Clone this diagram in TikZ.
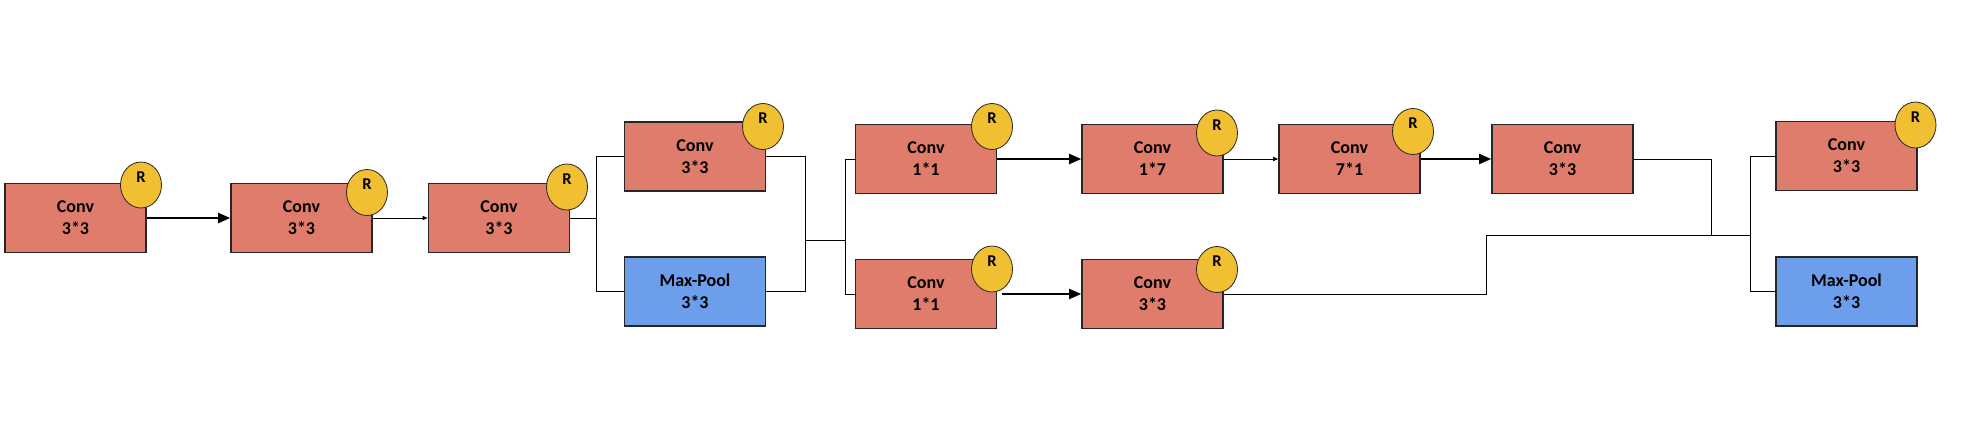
\documentclass[tikz,border=0pt]{standalone}
\usepackage{fontspec}
\setmainfont{Carlito}
\usetikzlibrary{arrows.meta,shapes.geometric}
\definecolor{convfill}{RGB}{224,124,107}
\definecolor{poolfill}{RGB}{109,158,235}
\definecolor{rfill}{RGB}{240,191,50}
\begin{document}
\begin{tikzpicture}[x=1pt,y=-1pt,
  blk/.style={draw=black!85,line width=1.6pt,minimum width=141pt,minimum height=69pt,inner sep=0pt,align=center,
    font=\fontsize{18}{22}\selectfont\bfseries},
  convbox/.style={blk,fill=convfill},
  poolbox/.style={blk,fill=poolfill},
  rcirc/.style={ellipse,draw=black!85,line width=0.8pt,fill=rfill,minimum width=41pt,minimum height=46pt,inner sep=0pt,
    text height=11pt,text depth=16.4pt,font=\fontsize{16.5}{18}\selectfont\bfseries},
  wire/.style={draw=black,line width=1pt},
  thickarrow/.style={draw=black,line width=2pt,-{Triangle[length=12pt,width=10pt]}},
  thinarrow/.style={draw=black,line width=1pt,-{Triangle[length=5pt,width=4pt]}}
]
\useasboundingbox (0,0) rectangle (1962,442);

% boxes
\node[convbox] (b1) at (75.5,218) {Conv\\3*3};
\node[convbox] (b2) at (301.5,218) {Conv\\3*3};
\node[convbox] (b3) at (499,218) {Conv\\3*3};
\node[convbox] (b4) at (695,156.5) {Conv\\3*3};
\node[poolbox] (b5) at (695,291.5) {Max-Pool\\3*3};
\node[convbox] (b6) at (926,159) {Conv\\1*1};
\node[convbox] (b7) at (926,294) {Conv\\1*1};
\node[convbox] (b8) at (1152.5,159) {Conv\\1*7};
\node[convbox] (b9) at (1349.5,159) {Conv\\7*1};
\node[convbox] (b10) at (1562.5,159) {Conv\\3*3};
\node[convbox] (b11) at (1152.5,294) {Conv\\3*3};
\node[convbox] (b12) at (1846.5,156) {Conv\\3*3};
\node[poolbox] (b13) at (1846.5,291.3) {Max-Pool\\3*3};

% R circles
\node[rcirc] (r1) at (141,185) {R};
\node[rcirc] (r2) at (367,192.5) {R};
\node[rcirc] (r3) at (567,187) {R};
\node[rcirc] (r4) at (763,126.5) {R};
\node[rcirc] (r6) at (992,126.5) {R};
\node[rcirc] (r7) at (992,269) {R};
\node[rcirc] (r8) at (1217,133) {R};
\node[rcirc] (r9) at (1413,131.5) {R};
\node[rcirc] (r11) at (1217,269.5) {R};
\node[rcirc] (r12) at (1915.5,125) {R};

% junction coordinates
\coordinate (j1) at (596.5,218);
\coordinate (j2) at (805,240);
\coordinate (j3) at (845,240);
\coordinate (j4) at (1711,235.7);
\coordinate (j5) at (1486,235.7);
\coordinate (j6) at (1750,235.7);

% connectors
\draw[thickarrow] (b1.east) -- (b2.west);
\draw[thinarrow] (b2.east) -- (b3.west);
\draw[wire] (b3.east) -- (j1);
\draw[wire] (b4.west) -| (j1);
\draw[wire] (b5.west) -| (j1);
\draw[wire] (b4.east) -| (j2);
\draw[wire] (b5.east) -| (j2);
\draw[wire] (j2) -- (j3);
\draw[wire] (j3) |- (b6.west);
\draw[wire] (j3) |- (b7.west);
\draw[thickarrow] (b6.east) -- (b8.west);
\draw[thickarrow] ([xshift=5pt]b7.east) -- (b11.west);
\draw[thinarrow] (b8.east) -- (b9.west);
\draw[thickarrow] (b9.east) -- (b10.west);
\draw[wire] (b10.east) -| (j4);
\draw[wire] (b11.east) -| (j5);
\draw[wire] (j5) -- (j6);
\draw[wire] (j6) |- (b12.west);
\draw[wire] (j6) |- (b13.west);
\end{tikzpicture}
\end{document}
